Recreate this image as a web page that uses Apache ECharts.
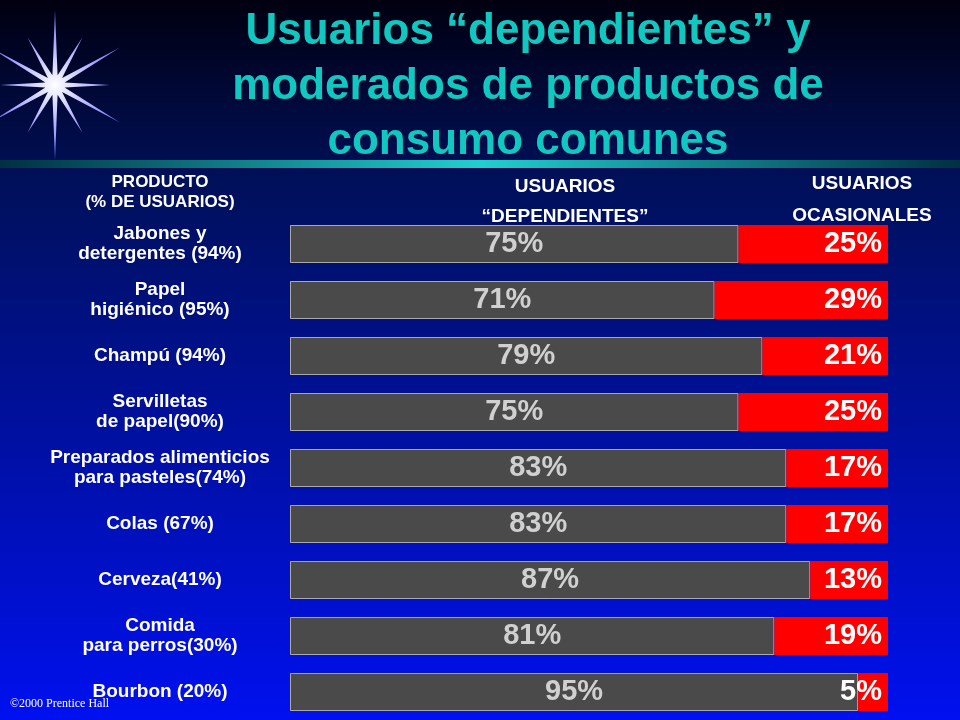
<!DOCTYPE html>
<html><head><meta charset="utf-8">
<script src="https://cdn.jsdelivr.net/npm/echarts@6/dist/echarts.min.js"></script>
<style>html,body{margin:0;padding:0;background:#000}#c{width:960px;height:720px}</style>
</head><body><div id="c"></div>
<script>
const categories = ['Jabones y\ndetergentes (94%)','Papel\nhigiénico (95%)','Champú (94%)','Servilletas\nde papel(90%)','Preparados alimenticios\npara pasteles(74%)','Colas (67%)','Cerveza(41%)','Comida\npara perros(30%)','Bourbon (20%)'];
const dependientes = [75,71,79,75,83,83,87,81,95];
const ocasionales = [25,29,21,25,17,17,13,19,5];

const chart = echarts.init(document.getElementById('c'));
const star = [];
const cx=55, cy=85, n=12;
for(let i=0;i<n*2;i++){const a=i*Math.PI/n - Math.PI/2; const r=i%2===0?(i%4===0?75:55):10; star.push([cx+r*Math.cos(a), cy+r*Math.sin(a)]);}
const shadow = {textShadowColor:'#000',textShadowBlur:0,textShadowOffsetX:2,textShadowOffsetY:2};
chart.setOption({
  backgroundColor:{type:'linear',x:0,y:0,x2:0,y2:1,colorStops:[{offset:0,color:'#000010'},{offset:0.25,color:'#00105a'},{offset:1,color:'#0010f0'}]},
  graphic:[
    {type:'polygon',shape:{points:star},style:{fill:{type:'radial',x:0.5,y:0.5,r:0.5,colorStops:[{offset:0,color:'#ffffff'},{offset:1,color:'#8080ff'}]}}},
    {type:'rect',shape:{x:0,y:160,width:960,height:8},style:{fill:{type:'linear',x:0,y:0,x2:1,y2:0,colorStops:[{offset:0,color:'#003040'},{offset:0.5,color:'#20d0d0'},{offset:1,color:'#003040'}]}}},
    {type:'text',x:528,y:4,style:{text:'Usuarios “dependientes” y\nmoderados de productos de\nconsumo comunes',fill:'#10c8c0',font:'bold 44px Liberation Sans, Arial',align:'center',lineHeight:55,textShadowColor:'#000',textShadowOffsetX:3,textShadowOffsetY:3}},
    {type:'text',x:160,y:172,style:Object.assign({text:'PRODUCTO\n(% DE USUARIOS)',fill:'#fff',font:'bold 17px Liberation Sans',align:'center',lineHeight:20},shadow)},
    {type:'text',x:565,y:172,style:Object.assign({text:'USUARIOS\n“DEPENDIENTES”',fill:'#fff',font:'bold 19px Liberation Sans',align:'center',lineHeight:30},shadow)},
    {type:'text',x:862,y:168,style:Object.assign({text:'USUARIOS\nOCASIONALES',fill:'#fff',font:'bold 19px Liberation Sans',align:'center',lineHeight:32},shadow)},
    {type:'text',x:10,y:698,z:-1,style:{text:'©2000 Prentice Hall',fill:'#fff',font:'12px Liberation Serif'}}
  ],
  grid:{left:290,right:72,top:216,bottom:-8},
  xAxis:{type:'value',min:0,max:100,show:false},
  yAxis:{type:'category',inverse:true,data:categories,axisLine:{show:false},axisTick:{show:false},
    axisLabel:Object.assign({color:'#fff',fontWeight:'bold',fontSize:19,fontFamily:'Liberation Sans',align:'center',margin:130,lineHeight:20},shadow)},
  series:[
    {type:'bar',stack:'a',data:dependientes,barWidth:38,itemStyle:{color:'#4a4a4a',borderColor:'#aaa',borderWidth:1},
     label:{show:true,position:'inside',formatter:'{c}%',color:'#d0d0d0',fontSize:29,fontWeight:'bold',fontFamily:'Liberation Sans'}},
    {type:'bar',stack:'a',data:ocasionales,itemStyle:{color:'#ff0000'},
     label:{show:true,position:'insideRight',formatter:'{c}%',color:'#fff',fontSize:29,fontWeight:'bold',fontFamily:'Liberation Sans',distance:6}}
  ]
});
</script></body></html>
